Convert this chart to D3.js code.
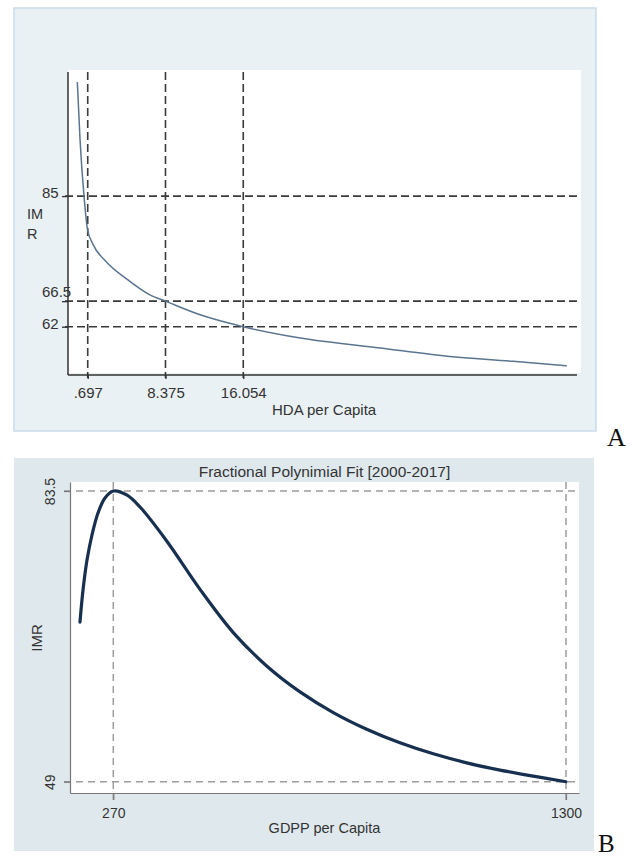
<!DOCTYPE html>
<html>
	<head>
		<title>IMR fits</title>
		<style>
			body,
			html {
				margin: 0;
				padding: 0;
				background: #fff;
			}
		</style>
	</head>
	<body>
		<svg id="svg" width="635" height="857" font-family="'Liberation Sans', Arial, sans-serif"></svg>

		<script src="https://d3js.org/d3.v7.min.js"></script>
		<script>
			// Panel A: IMR against HDA per capita
			const hdaX = [-0.33, -0.06, 0.33, 0.68, 1.22, 2.5, 4.47, 6.84, 8.375, 11.8, 16.05, 21.7, 29.6, 36.2, 42.7, 48.0];
			const hdaImr = [105.1, 94.9, 85.0, 79.1, 76.5, 73.5, 70.5, 67.6, 66.5, 64.1, 62.0, 60.0, 58.25, 56.8, 55.9, 55.1];
			const hdaRefX = [0.697, 8.375, 16.054];
			const hdaRefXLabels = ['.697', '8.375', '16.054'];
			const hdaRefY = [85, 66.5, 62];
			const hdaRefYLabels = ['85', '66.5', '62'];

			// Panel B: fractional polynomial fit, IMR against GDPP per capita
			const gdpX = [194.2, 201.1, 210.2, 221.5, 235.2, 251.1, 270, 300.5, 330.8, 391.5, 467.3, 543, 619, 694.8, 770.6, 846.6, 922.3, 998.1, 1074, 1150, 1225.6, 1300];
			const gdpImr = [67.95, 71.75, 75.31, 78.28, 80.89, 82.67, 83.5, 83.03, 81.6, 77.57, 71.83, 66.7, 62.74, 59.66, 57.21, 55.23, 53.62, 52.31, 51.24, 50.38, 49.66, 49.0];
			const gdpRefX = [270, 1300];
			const gdpRefY = [83.5, 49];

			const svg = d3.select('#svg');
			const serif = "'Liberation Serif', 'DejaVu Serif', serif";

			// ---------- panel A ----------
			const a = { left: 68, right: 581, top: 70, bottom: 375 };
			svg.append('rect')
				.attr('x', 14).attr('y', 8).attr('width', 582).attr('height', 423)
				.attr('fill', '#eaf1f4').attr('stroke', '#c9dbea').attr('stroke-width', 1.5);
			svg.append('rect')
				.attr('x', a.left).attr('y', a.top).attr('width', a.right - a.left).attr('height', a.bottom - a.top - 2)
				.attr('fill', '#fff');

			const xA = d3.scaleLinear().domain([-1.25, 49.4]).range([a.left, a.right]);
			const yA = d3.scaleLinear().domain([53.5, 107.2]).range([a.bottom, a.top]);

			// dashed reference lines
			svg.append('g')
				.selectAll('line')
				.data(hdaRefY)
				.enter()
				.append('line')
				.attr('x1', a.left - 3).attr('x2', a.right)
				.attr('y1', (d) => yA(d)).attr('y2', (d) => yA(d))
				.attr('stroke', '#3a3a3a').attr('stroke-width', 1.6).attr('stroke-dasharray', '8,4');
			svg.append('g')
				.selectAll('line')
				.data(hdaRefX)
				.enter()
				.append('line')
				.attr('x1', (d) => xA(d)).attr('x2', (d) => xA(d))
				.attr('y1', a.top + 2).attr('y2', a.bottom + 3)
				.attr('stroke', '#3a3a3a').attr('stroke-width', 1.6).attr('stroke-dasharray', '8,4');

			const lineA = d3.line()
				.x((d, i) => xA(hdaX[i]))
				.y((d) => yA(d))
				.curve(d3.curveMonotoneX);
			svg.append('path')
				.attr('d', lineA(hdaImr))
				.attr('fill', 'none')
				.attr('stroke', '#5b7590')
				.attr('stroke-width', 1.5);

			const bottomA = d3.axisBottom(xA)
				.tickValues(hdaRefX)
				.tickFormat((d, i) => hdaRefXLabels[i])
				.tickSize(4)
				.tickSizeOuter(0);
			const gxA = svg.append('g')
				.attr('transform', `translate(0, ${a.bottom})`)
				.call(bottomA);
			gxA.attr('font-family', null);
			gxA.select('.domain').attr('d', `M${a.left},0H${a.right - 4}`).attr('stroke', '#333').attr('stroke-width', 1.5);
			gxA.selectAll('.tick line').attr('stroke', '#333').attr('stroke-width', 1.3);
			gxA.selectAll('.tick text')
				.attr('y', 23).attr('dy', 0)
				.attr('font-size', 15).attr('fill', '#333');

			const leftA = d3.axisLeft(yA)
				.tickValues(hdaRefY)
				.tickFormat((d, i) => hdaRefYLabels[i])
				.tickSize(6)
				.tickSizeOuter(0);
			const gyA = svg.append('g')
				.attr('transform', `translate(${a.left}, 0)`)
				.call(leftA);
			gyA.attr('font-family', null);
			gyA.select('.domain').attr('d', `M0,${a.top + 2}V${a.bottom}`).attr('stroke', '#333').attr('stroke-width', 1.5);
			gyA.selectAll('.tick line').attr('stroke', '#333').attr('stroke-width', 1.3);
			gyA.selectAll('.tick text')
				.attr('x', -26)
				.attr('text-anchor', 'start')
				.attr('dy', (d) => (d === 66.5 ? -5 : 1.5))
				.attr('font-size', 15)
				.attr('fill', '#333');

			svg.append('text')
				.attr('x', 272).attr('y', 415)
				.attr('font-size', 15).attr('fill', '#333')
				.text('HDA per Capita');
			const imrA = svg.append('text')
				.attr('x', 27).attr('y', 219)
				.attr('font-size', 14.5).attr('fill', '#333');
			imrA.append('tspan').attr('x', 27).text('IM');
			imrA.append('tspan').attr('x', 27).attr('dy', 20).text('R');

			// ---------- panel B ----------
			const b = { left: 70, right: 579, top: 482, bottom: 793 };
			svg.append('rect')
				.attr('x', 14).attr('y', 458).attr('width', 580).attr('height', 393)
				.attr('fill', '#dfe9ed');
			svg.append('rect')
				.attr('x', b.left).attr('y', b.top).attr('width', b.right - b.left).attr('height', b.bottom - b.top)
				.attr('fill', '#fff');

			const xB = d3.scaleLinear().domain([171.5, 1329.6]).range([b.left, b.right]);
			const yB = d3.scaleLinear().domain([47.66, 84.57]).range([b.bottom, b.top]);

			svg.append('g')
				.selectAll('line')
				.data(gdpRefY)
				.enter()
				.append('line')
				.attr('x1', b.left - 6).attr('x2', b.right)
				.attr('y1', (d) => yB(d)).attr('y2', (d) => yB(d))
				.attr('stroke', '#9c9c9c').attr('stroke-width', 1.5).attr('stroke-dasharray', '7,5');
			svg.append('g')
				.selectAll('line')
				.data(gdpRefX)
				.enter()
				.append('line')
				.attr('x1', (d) => xB(d)).attr('x2', (d) => xB(d))
				.attr('y1', b.top).attr('y2', b.bottom + 7)
				.attr('stroke', '#9c9c9c').attr('stroke-width', 1.5).attr('stroke-dasharray', '7,5');

			const bottomB = d3.axisBottom(xB)
				.tickValues(gdpRefX)
				.tickFormat(d3.format('d'))
				.tickSize(7)
				.tickSizeOuter(0);
			const gxB = svg.append('g')
				.attr('transform', `translate(0, ${b.bottom})`)
				.call(bottomB);
			gxB.attr('font-family', null);
			gxB.select('.domain').attr('stroke', '#777').attr('stroke-width', 1.2);
			gxB.selectAll('.tick line').attr('stroke', '#777').attr('stroke-width', 1.2);
			gxB.selectAll('.tick text')
				.attr('y', 25).attr('dy', 0)
				.attr('font-size', 14).attr('fill', '#333');

			const leftB = d3.axisLeft(yB)
				.tickValues(gdpRefY)
				.tickFormat((d) => String(d))
				.tickSize(6)
				.tickSizeOuter(0);
			const gyB = svg.append('g')
				.attr('transform', `translate(${b.left}, 0)`)
				.call(leftB);
			gyB.attr('font-family', null);
			gyB.select('.domain').attr('stroke', '#777').attr('stroke-width', 1.2);
			gyB.selectAll('.tick line').attr('stroke', '#777').attr('stroke-width', 1.2);
			gyB.selectAll('.tick text')
				.attr('x', 0).attr('dy', 0)
				.attr('text-anchor', 'middle')
				.attr('transform', 'translate(-15,0) rotate(-90)')
				.attr('font-size', 14).attr('fill', '#333');

			const lineB = d3.line()
				.x((d, i) => xB(gdpX[i]))
				.y((d) => yB(d))
				.curve(d3.curveCatmullRom.alpha(0.5));
			svg.append('path')
				.attr('d', lineB(gdpImr))
				.attr('fill', 'none')
				.attr('stroke', '#17304f')
				.attr('stroke-width', 3.2)
				.attr('stroke-linecap', 'round');

			svg.append('text')
				.attr('x', (b.left + b.right) / 2).attr('y', 477)
				.attr('text-anchor', 'middle')
				.attr('font-size', 15.5).attr('fill', '#333')
				.text('Fractional Polynimial Fit [2000-2017]');
			svg.append('text')
				.attr('x', (b.left + b.right) / 2).attr('y', 833)
				.attr('text-anchor', 'middle')
				.attr('font-size', 14.5).attr('fill', '#333')
				.text('GDPP per Capita');
			svg.append('text')
				.attr('transform', 'translate(42, 638) rotate(-90)')
				.attr('text-anchor', 'middle')
				.attr('font-size', 15).attr('fill', '#333')
				.text('IMR');

			// panel letters
			svg.append('text')
				.attr('x', 607).attr('y', 446)
				.attr('font-family', serif)
				.attr('font-size', 26).attr('fill', '#111')
				.text('A');
			svg.append('text')
				.attr('x', 598).attr('y', 852)
				.attr('font-family', serif)
				.attr('font-size', 25).attr('fill', '#111')
				.text('B');
		</script>
	</body>
</html>
